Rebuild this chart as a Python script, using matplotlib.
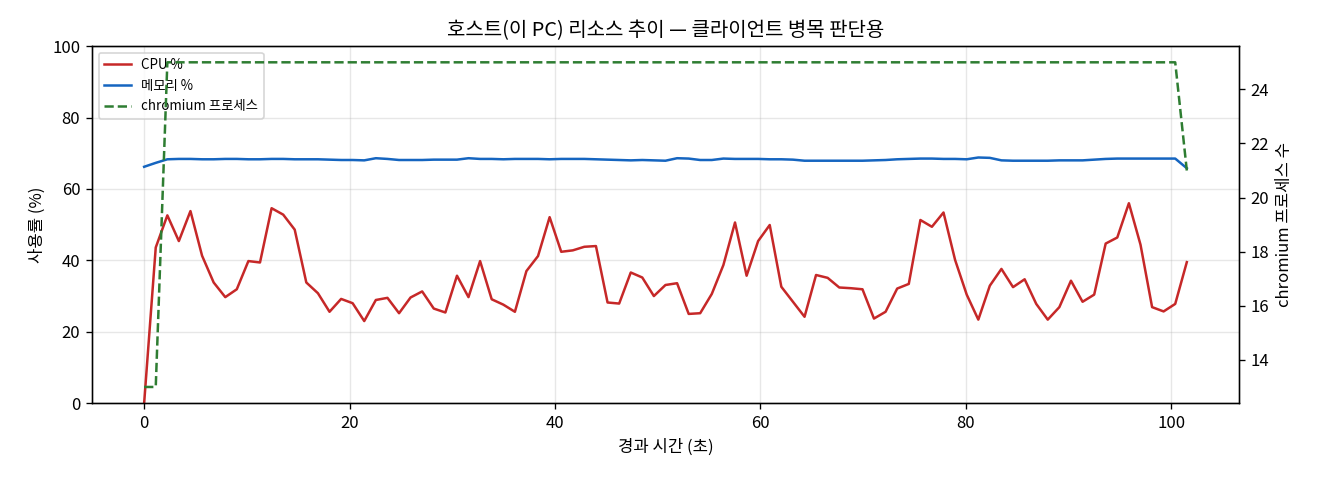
import numpy as np
import matplotlib
matplotlib.use('Agg')
import matplotlib.pyplot as plt

plt.rcParams['font.family'] = ['Noto Sans CJK KR', 'DejaVu Sans']
plt.rcParams['axes.unicode_minus'] = False

# 샘플 간격 약 1.13초, 91개
t = np.round(np.arange(91) * 1.128, 2)

cpu = [0.0, 43.6, 52.6, 45.4, 53.8, 41.3, 33.8, 29.7, 31.9, 39.8,
       39.4, 54.6, 52.8, 48.6, 33.8, 30.8, 25.6, 29.2, 28.0, 23.0,
       28.9, 29.5, 25.2, 29.6, 31.3, 26.5, 25.4, 35.7, 29.7, 39.8,
       29.1, 27.6, 25.6, 37.0, 41.2, 52.1, 42.4, 42.8, 43.8, 44.0,
       28.2, 27.9, 36.6, 35.2, 30.0, 33.1, 33.6, 25.0, 25.2, 30.6,
       38.7, 50.6, 35.7, 45.4, 49.9, 32.6, 28.4, 24.2, 35.9, 35.1,
       32.4, 32.2, 31.9, 23.7, 25.6, 32.1, 33.4, 51.3, 49.4, 53.4,
       40.1, 30.4, 23.4, 32.9, 37.6, 32.5, 34.7, 27.8, 23.4, 26.9,
       34.3, 28.4, 30.4, 44.7, 46.4, 56.0, 44.4, 26.9, 25.7, 27.8,
       39.5]

mem = [66.2, 67.3, 68.3, 68.4, 68.4, 68.3, 68.3, 68.4, 68.4, 68.3,
       68.3, 68.4, 68.4, 68.3, 68.3, 68.3, 68.2, 68.1, 68.1, 68.0,
       68.6, 68.4, 68.1, 68.1, 68.1, 68.2, 68.2, 68.2, 68.6, 68.4,
       68.4, 68.3, 68.4, 68.4, 68.4, 68.3, 68.4, 68.4, 68.4, 68.3,
       68.2, 68.1, 68.0, 68.1, 68.0, 67.9, 68.6, 68.5, 68.1, 68.1,
       68.5, 68.4, 68.4, 68.4, 68.3, 68.3, 68.2, 67.9, 67.9, 67.9,
       67.9, 67.9, 67.9, 68.0, 68.1, 68.3, 68.4, 68.5, 68.5, 68.4,
       68.4, 68.3, 68.8, 68.7, 68.0, 67.9, 67.9, 67.9, 67.9, 68.0,
       68.0, 68.0, 68.2, 68.4, 68.5, 68.5, 68.5, 68.5, 68.5, 68.5,
       65.8]

chromium = [13, 13] + [25] * 88 + [21]

fig, ax1 = plt.subplots(figsize=(11, 4), dpi=120)
l1, = ax1.plot(t, cpu, color='#c62828', lw=1.5, label='CPU %')
l2, = ax1.plot(t, mem, color='#1565c0', lw=1.5, label='메모리 %')
ax1.set_ylim(0, 100)
ax1.set_xlabel('경과 시간 (초)')
ax1.set_ylabel('사용률 (%)')
ax1.grid(alpha=0.3)

ax2 = ax1.twinx()
l3, = ax2.plot(t, chromium, color='#2e7d32', lw=1.5, ls='--', label='chromium 프로세스')
ax2.set_ylabel('chromium 프로세스 수')

ax1.legend([l1, l2, l3], [l.get_label() for l in (l1, l2, l3)], loc='upper left', fontsize=8)
ax1.set_title('호스트(이 PC) 리소스 추이 — 클라이언트 병목 판단용')

fig.subplots_adjust(left=0.0697, right=0.9386, top=0.904, bottom=0.160)
fig.savefig('out.png')
